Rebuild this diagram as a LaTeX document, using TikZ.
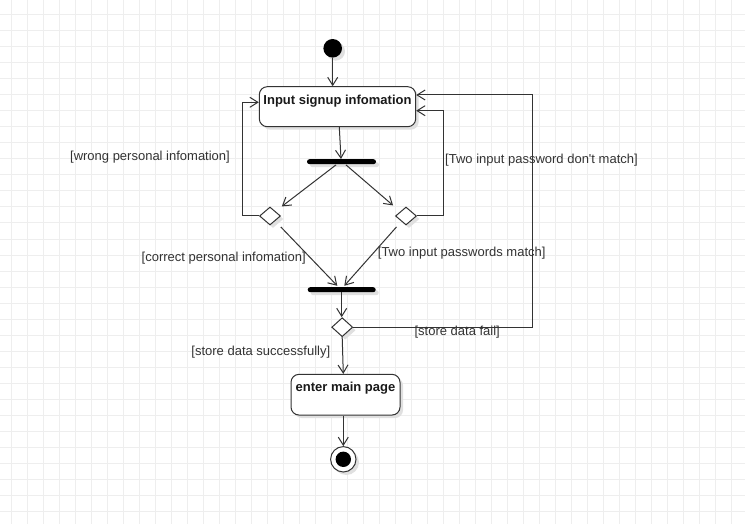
\documentclass[tikz,border=0pt]{standalone}
\usepackage{fontspec}
\setmainfont{Liberation Sans}[Ligatures=TeXOff]
\usetikzlibrary{arrows.meta,shapes.geometric,shadows,calc}
\definecolor{gridc}{HTML}{EEEEEE}
\definecolor{linec}{HTML}{333333}
\definecolor{textc}{HTML}{333333}
\begin{document}
\begin{tikzpicture}[x=1pt,y=-1pt,
  shd/.style={drop shadow={shadow xshift=3pt,shadow yshift=-3pt,fill=black!12,opacity=1}},
  actbox/.style={draw=linec,line width=1pt,fill=white,rounded corners=8pt,shd,
    font=\fontsize{13}{15}\selectfont\bfseries,text=black!90,inner xsep=2pt,inner ysep=4pt,
    text height=13.5pt},
  barnode/.style={fill=black,rounded corners=2.5pt,minimum height=5pt,inner sep=0pt,shd},
  dec/.style={diamond,draw=linec,line width=1pt,fill=white,minimum width=21pt,minimum height=18pt,inner sep=0pt,shd},
  conn/.style={draw=linec,line width=1pt,-{Straight Barb[length=8pt,width=10pt]}},
  guard/.style={font=\fontsize{13}{15}\selectfont,text=textc,inner sep=0pt}
]
\useasboundingbox (0,0) rectangle (745,524);
\fill[white] (0,0) rectangle (745,524);
% grid
\foreach \k in {0,...,45} \draw[gridc,line width=1pt] (11.5+16*\k,0) -- (11.5+16*\k,524);
\foreach \k in {0,...,31} \draw[gridc,line width=1pt] (0,15+16*\k) -- (745,15+16*\k);

% nodes
\node[circle,fill=black,minimum size=18.6pt,inner sep=0pt,shd] (start) at (332.7,48.3) {};
\node[actbox,minimum width=156.4pt,minimum height=40pt,text depth=18.5pt] (input) at (337.5,106.7) {Input signup infomation};
\node[barnode,minimum width=69pt] (bar1) at (341.5,161.7) {};
\node[dec] (d1) at (270,216) {};
\node[dec] (d2) at (406,216) {};
\node[barnode,minimum width=68pt] (bar2) at (341.7,289.7) {};
\node[dec,minimum height=19pt] (d3) at (342.2,327.2) {};
\node[actbox,minimum width=109pt,minimum height=40.7pt,text depth=19pt] (main) at (345.5,394.7) {enter main page};
\node[circle,draw=linec,line width=1pt,fill=white,minimum size=25.4pt,inner sep=0pt,shd,
  path picture={\fill[black] (path picture bounding box.center) circle (7.7pt);}] (end) at (343.3,459.3) {};

% guards
\node[guard] (g1) at (150,157.3) {[wrong personal infomation]};
\node[guard,anchor=west] (g2) at (445,160) {[Two input password don't match]};
\node[guard] (g3) at (223.7,258.3) {[correct personal infomation]};
\node[guard] (g4) at (461.7,252.7) {[Two input passwords match]};
\node[guard] (g5) at (457.2,332.3) {[store data fail]};
\node[guard] (g6) at (260.8,351.7) {[store data successfully]};

% connectors
\draw[conn] (start.south) -- (start.south |- input.north);
\draw[conn] ($(input.south)+(1.8,0)$) -- ($(bar1.north)+(-0.5,0)$);
\draw[conn] ($(bar1.south)+(-5.5,0.5)$) -- ($(d1.north east)+(6.3,-4.8)$);
\draw[conn] ($(bar1.south)+(4.5,0.5)$) -- ($(d2.north west)+(-7.4,-5.8)$);
\draw[conn] (d1.west) -- ++(-16.6,0) |- ($(input.west)+(0,-4.4)$);
\draw[conn] (d2.east) -- ++(26,0) |- ($(input.east)+(0,4)$);
\draw[conn] ($(d1.south east)+(5.3,6.2)$) -- ($(bar2.north)+(-4.4,-1.2)$);
\draw[conn] ($(d2.south west)+(-4,6.2)$) -- ($(bar2.north)+(2.6,-1.2)$);
\draw[conn] (bar2.south) -- (bar2.south |- d3.north);
\draw[conn] (d3.east) -- ++(179.5,0) |- ($(input.east)+(0,-11.7)$);
\draw[conn] (d3.south) -- ($(main.north)+(-2.2,0)$);
\draw[conn] ($(main.south)+(-2.2,0)$) -- (end.north);
\end{tikzpicture}
\end{document}
